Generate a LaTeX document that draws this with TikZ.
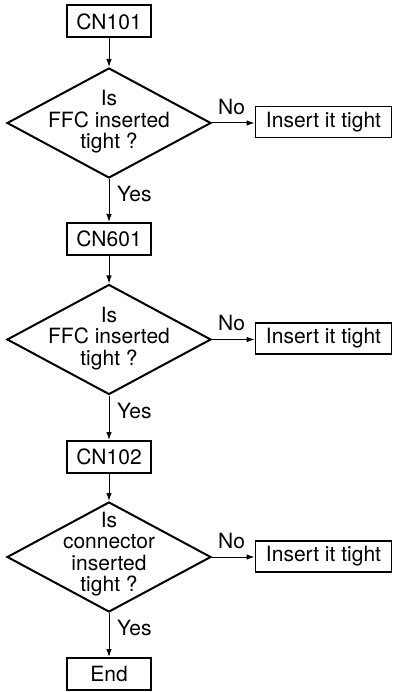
\documentclass[tikz,border=0pt]{standalone}
\usepackage{fontspec}
\setmainfont{TeX Gyre Heros}
\usetikzlibrary{shapes.geometric,arrows.meta}
\begin{document}
\begin{tikzpicture}[x=1pt,y=1pt,
  font=\fontsize{21}{21.5}\selectfont,
  stepbox/.style={draw,line width=2pt,inner sep=0pt,minimum width=84pt,minimum height=32pt},
  fixbox/.style={draw,line width=1.8pt,inner sep=0pt,minimum width=136pt,minimum height=31pt},
  decision/.style={draw,diamond,line width=2pt,inner sep=0pt,minimum width=204pt,minimum height=110pt},
  dtext/.style={align=center,inner sep=0pt},
  flow/.style={line width=1pt,-{Latex[length=8pt,width=5.5pt]}},
  lbl/.style={inner sep=0pt}]
\useasboundingbox (0,0) rectangle (393,-692);
% boxes
\node[stepbox] (cn101) at (109,-21.5) {CN101};
\node[decision] (d1) at (109,-123) {};
\node[dtext] (t1) at (109,-122) {Is\\FFC inserted\\tight ?};
\node[fixbox] (f1) at (323.5,-122) {Insert it tight};
\node[stepbox] (cn601) at (109,-239) {CN601};
\node[decision] (d2) at (109,-339.5) {};
\node[dtext] (t2) at (109,-338.5) {Is\\FFC inserted\\tight ?};
\node[fixbox] (f2) at (323.5,-338.5) {Insert it tight};
\node[stepbox] (cn102) at (109,-457) {CN102};
\node[decision] (d3) at (109,-557) {};
\node[dtext] (t3) at (109,-554) {Is\\connector\\inserted\\tight ?};
\node[fixbox] (f3) at (323.5,-556.5) {Insert it tight};
\node[stepbox] (endb) at (109,-674) {End};
% connectors
\draw[flow] (cn101) -- (d1);
\draw[flow] (d1) -- (cn601);
\draw[flow] (cn601) -- (d2);
\draw[flow] (d2) -- (cn102);
\draw[flow] (cn102) -- (d3);
\draw[flow] (d3) -- (endb);
\draw[flow] (d1.east) -- (d1.east -| f1.west);
\draw[flow] (d2.east) -- (d2.east -| f2.west);
\draw[flow] (d3.east) -- (d3.east -| f3.west);
% labels
\node[lbl,anchor=south west] (no1) at ([xshift=6pt,yshift=8pt]d1.east) {No};
\node[lbl,anchor=south west] (no2) at ([xshift=6pt,yshift=8pt]d2.east) {No};
\node[lbl,anchor=south west] (no3) at ([xshift=6pt,yshift=8pt]d3.east) {No};
\node[lbl,anchor=north west] (y1) at ([xshift=8pt,yshift=-7pt]d1.south) {Yes};
\node[lbl,anchor=north west] (y2) at ([xshift=8pt,yshift=-7pt]d2.south) {Yes};
\node[lbl,anchor=north west] (y3) at ([xshift=8pt,yshift=-7pt]d3.south) {Yes};
\end{tikzpicture}
\end{document}
